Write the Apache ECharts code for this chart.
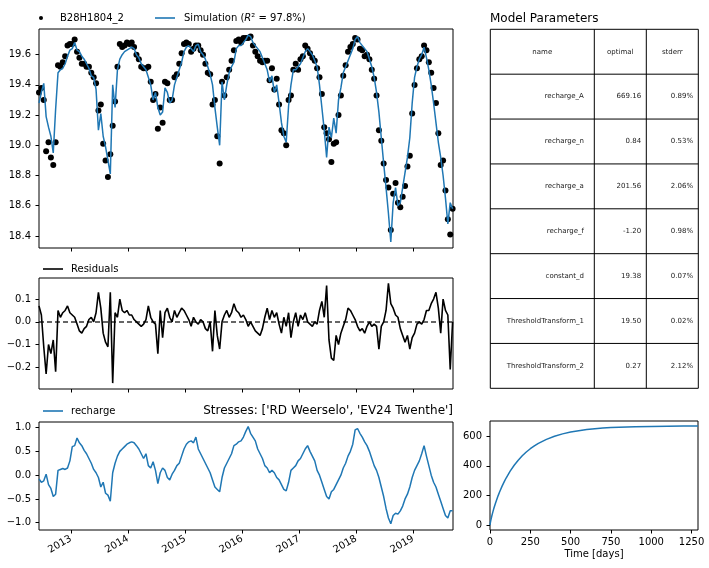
<!DOCTYPE html>
<html><head><meta charset="utf-8">
<script src="https://cdn.jsdelivr.net/npm/echarts@6/dist/echarts.min.js"></script>
<style>html,body{margin:0;padding:0;background:#fff}#c{width:709px;height:568px}</style>
</head><body><div id="c"></div>
<script>
// ---- data (semi-monthly samples) ----
const START_YEAR = 2012.439;      // decimal year of first sample
const STEP_YEAR = 1 / 24;         // half a month
const X_MIN = 2012.439, X_MAX = 2019.696;
const yearTicks = [2013, 2014, 2015, 2016, 2017, 2018, 2019];

const simulation = [
19.28,19.35,19.41,19.19,19.12,19.06,18.95,19.24,19.48,19.50,
19.51,19.54,19.59,19.63,19.64,19.68,19.63,19.62,19.59,19.57,
19.54,19.51,19.46,19.45,19.37,19.10,19.21,19.06,18.99,18.90,
18.81,19.40,19.25,19.50,19.57,19.60,19.62,19.63,19.64,19.65,
19.64,19.60,19.58,19.54,19.52,19.50,19.45,19.40,19.30,19.35,
19.25,19.20,19.22,19.38,19.35,19.28,19.30,19.40,19.45,19.50,
19.55,19.62,19.65,19.66,19.64,19.62,19.66,19.67,19.62,19.60,
19.57,19.52,19.47,19.40,19.25,19.12,19.00,19.42,19.30,19.40,
19.48,19.52,19.55,19.64,19.66,19.66,19.68,19.70,19.73,19.72,
19.68,19.66,19.64,19.62,19.58,19.54,19.50,19.42,19.46,19.35,
19.40,19.28,19.15,19.06,19.02,19.26,19.40,19.50,19.50,19.52,
19.54,19.58,19.62,19.64,19.62,19.60,19.56,19.52,19.40,19.25,
19.10,18.92,19.12,19.05,19.18,19.08,19.30,19.38,19.48,19.52,
19.56,19.60,19.64,19.70,19.72,19.68,19.66,19.64,19.62,19.57,
19.52,19.45,19.35,19.22,19.05,18.88,18.72,18.55,18.36,18.62,
18.72,18.60,18.62,18.72,18.82,18.92,19.05,19.28,19.45,19.52,
19.57,19.60,19.65,19.58,19.50,19.40,19.28,19.15,19.02,18.92,
18.80,18.65,18.48,18.62,18.58];

const residuals = [
0.07,0.03,-0.11,-0.23,-0.10,-0.14,-0.08,-0.22,0.05,0.02,
0.04,0.05,0.07,0.04,0.03,0.02,-0.01,-0.04,-0.05,-0.03,
-0.02,0.01,0.02,0.00,0.04,0.13,0.06,-0.05,-0.09,-0.11,
0.13,-0.27,0.04,0.02,0.10,0.05,0.04,0.05,0.03,0.03,
0.01,0.00,-0.01,-0.02,-0.01,0.01,0.07,0.02,0.00,-0.01,
-0.14,0.05,-0.07,0.04,0.06,0.02,0.00,0.05,0.02,0.04,
0.06,0.05,0.03,0.01,-0.02,0.02,0.00,-0.01,0.01,0.00,
-0.03,-0.04,0.00,-0.13,0.05,-0.06,-0.12,0.00,0.03,0.05,
0.02,0.04,0.08,0.05,0.04,0.02,0.03,0.01,-0.02,0.00,
-0.02,-0.04,-0.05,-0.06,-0.03,0.02,0.06,0.01,0.05,0.02,
0.04,-0.01,-0.05,0.02,-0.02,0.04,-0.07,0.00,0.04,-0.02,
0.03,0.01,0.04,0.00,-0.01,-0.02,0.00,-0.01,0.05,0.09,
0.02,0.16,-0.08,-0.16,-0.17,-0.06,-0.10,-0.05,-0.02,0.01,
0.06,0.05,0.03,0.01,-0.02,-0.04,-0.03,-0.05,-0.02,0.00,
-0.02,-0.01,-0.02,-0.12,-0.02,0.00,0.05,0.17,0.08,0.06,
0.03,0.02,-0.03,-0.06,-0.09,-0.06,-0.12,-0.07,-0.05,-0.01,
0.00,-0.01,0.01,0.05,0.05,0.08,0.10,0.13,0.06,-0.05,
0.10,0.05,0.03,-0.21,0.00];

const recharge = [
-0.08,-0.15,-0.12,0.02,-0.20,-0.28,-0.45,-0.40,0.10,0.12,
0.14,0.12,0.15,0.30,0.60,0.62,0.78,0.68,0.62,0.52,
0.45,0.35,0.25,0.12,0.05,-0.05,-0.25,-0.15,-0.38,-0.42,
-0.55,0.05,0.25,0.40,0.50,0.55,0.60,0.65,0.68,0.70,
0.68,0.62,0.55,0.45,0.35,0.45,0.20,0.15,0.28,0.10,
-0.18,0.05,0.15,0.10,-0.05,-0.10,0.02,0.10,0.20,0.25,
0.40,0.55,0.65,0.70,0.72,0.68,0.80,0.55,0.45,0.35,
0.25,0.15,0.05,-0.10,-0.25,-0.30,-0.35,-0.05,0.15,0.25,
0.35,0.45,0.62,0.65,0.70,0.72,0.80,0.92,1.02,0.88,
0.80,0.72,0.55,0.45,0.35,0.20,0.15,0.05,0.10,0.05,
-0.05,-0.10,-0.20,-0.30,-0.33,-0.15,0.10,0.15,0.20,0.30,
0.35,0.45,0.55,0.62,0.50,0.40,0.30,0.10,0.00,-0.15,
-0.30,-0.45,-0.50,-0.35,-0.30,-0.20,-0.10,0.00,0.15,0.25,
0.40,0.50,0.65,0.95,0.98,0.88,0.80,0.70,0.62,0.50,
0.35,0.20,0.10,-0.05,-0.25,-0.45,-0.70,-0.90,-1.02,-0.85,
-0.80,-0.82,-0.75,-0.65,-0.50,-0.40,-0.25,-0.05,0.10,0.20,
0.30,0.45,0.62,0.40,0.20,0.00,-0.15,-0.25,-0.40,-0.55,
-0.70,-0.85,-0.90,-0.75,-0.75];

const responseTime = [0,2,5,10,15,20,25,35,50,60,75,90,100,125,150,175,200,225,250,275,300,350,400,450,500,550,600,650,700,750,800,900,1000,1100,1200,1290];
const responseStep = [0,14.6,31.4,55.7,77.4,97.5,116.3,150.8,197.0,224.8,262.6,296.7,317.5,364.0,403.8,437.9,467.6,493.2,515.3,534.6,551.6,578.7,599.6,615.6,628.2,637.0,644.5,650.1,654.5,657.9,660.4,663.9,666.0,667.3,668.0,668.4];

const tableHeader = ['name', 'optimal', 'stderr'];
const paramNames = ['recharge_A','recharge_n','recharge_a','recharge_f','constant_d','ThresholdTransform_1','ThresholdTransform_2'];
const paramOptimal = [669.16, 0.84, 201.56, -1.20, 19.38, 19.50, 0.27];
const paramStderr = [0.89, 0.53, 2.06, 0.98, 0.07, 0.02, 2.12];

const obsTicks = [18.4, 18.6, 18.8, 19.0, 19.2, 19.4, 19.6];
const resTicks = [-0.2, -0.1, 0.0, 0.1];
const rchTicks = [-1.0, -0.5, 0.0, 0.5, 1.0];
const rspYTicks = [0, 200, 400, 600];
const rspXTicks = [0, 250, 500, 750, 1000, 1250];

// ---- build ----
const FONT = 'DejaVu Sans';
const BLUE = '#1f77b4';
const xs = simulation.map((_, i) => START_YEAR + i * STEP_YEAR);
const observed = simulation.map((s, i) => +(s + residuals[i]).toFixed(3));
const pair = (arr) => arr.map((v, i) => [xs[i], v]);
const fmt1 = v => (v < -1e-9 ? '\u2212' : '') + Math.abs(v).toFixed(1);

function gridBox(left, top, width, height) {
  return { left, top, width, height, show: true, borderColor: '#000', borderWidth: 1, backgroundColor: 'transparent', containLabel: false };
}
function tick() { return { show: true, length: 3.5, lineStyle: { color: '#000', width: 1 } }; }
function lab(extra) {
  return Object.assign({ color: '#000', fontFamily: FONT, fontSize: 10 }, extra);
}
const noLine = { show: false, onZero: false };
function yearAxis(gridIndex, showLabels) {
  return {
    type: 'value', gridIndex, min: X_MIN, max: X_MAX, position: 'bottom',
    axisLine: noLine, splitLine: { show: false },
    axisTick: Object.assign(tick(), { customValues: yearTicks }),
    axisLabel: lab({ show: showLabels, customValues: yearTicks, rotate: 30, margin: 8, formatter: v => String(Math.round(v)) })
  };
}
function yAxis(gridIndex, min, max, ticks, f) {
  return {
    type: 'value', gridIndex, min, max, position: 'left',
    axisLine: noLine, splitLine: { show: false },
    axisTick: Object.assign(tick(), { customValues: ticks }),
    axisLabel: lab({ customValues: ticks, margin: 8, formatter: f })
  };
}

const textStyle = { color: '#000', fontFamily: FONT, fontSize: 10 };

// table graphics
const TX = [490.3, 594.3, 646.3, 698.3];
const TY0 = 29.3, ROWH = 44.875, NROW = paramNames.length + 1;
const graphics = [];
for (let r = 0; r <= NROW; r++) {
  const y = TY0 + r * ROWH;
  graphics.push({ type: 'line', shape: { x1: TX[0], y1: y, x2: TX[3], y2: y }, style: { stroke: '#000', lineWidth: 1 } });
}
for (let c = 0; c < TX.length; c++) {
  graphics.push({ type: 'line', shape: { x1: TX[c], y1: TY0, x2: TX[c], y2: TY0 + NROW * ROWH }, style: { stroke: '#000', lineWidth: 1 } });
}
const cellText = (text, x, y, align) => ({ type: 'text', style: { text, x, y, align, verticalAlign: 'middle', fontSize: 7, fontFamily: FONT, fill: '#222' } });
tableHeader.forEach((h, c) => graphics.push(cellText(h, (TX[c] + TX[c + 1]) / 2, TY0 + ROWH / 2, 'center')));
paramNames.forEach((n, r) => {
  const y = TY0 + (r + 1.5) * ROWH;
  const cells = [n, paramOptimal[r].toFixed(2), paramStderr[r].toFixed(2) + '%'];
  cells.forEach((t, c) => {
    const w = TX[c + 1] - TX[c];
    graphics.push(cellText(t, TX[c + 1] - 0.1 * w, y, 'right'));
  });
});

const lineLegend = (name, left, top, color, extraText) => ({
  data: [{ name, icon: 'rect' }], left, top, padding: 0, itemWidth: 20, itemHeight: 1.6,
  itemStyle: { color }, textStyle: Object.assign({}, textStyle, { padding: [0, 0, 0, 3] }, extraText || {})
});

const option = {
  animation: false,
  backgroundColor: '#fff',
  textStyle: { fontFamily: FONT },
  title: [
    { text: 'Model Parameters', left: 490, top: 13, padding: 0, textStyle: { fontSize: 12, fontWeight: 'normal', fontFamily: FONT, color: '#000' } },
    { text: "Stresses: ['RD Weerselo', 'EV24 Twenthe']", right: 256, top: 405, padding: 0, textStyle: { fontSize: 12, fontWeight: 'normal', fontFamily: FONT, color: '#000' } }
  ],
  legend: [
    { data: [{ name: 'B28H1804_2', icon: 'circle' }], left: 39, top: 13, padding: 0, itemWidth: 28, itemHeight: 4, textStyle },
    Object.assign(lineLegend('Simulation', 155, 13, BLUE, { padding: [0, 0, 0, 4], rich: { it: { fontStyle: 'italic', fontFamily: FONT, fontSize: 10, color: '#000' } } }),
      { formatter: () => 'Simulation ({it|R}\u00B2 = 97.8%)' }),
    lineLegend('Residuals', 43, 264, '#000'),
    lineLegend('recharge', 43, 406, BLUE)
  ],
  grid: [
    gridBox(39, 29, 414, 219),
    gridBox(39, 278, 414, 111),
    gridBox(39, 422, 414, 108),
    gridBox(490, 421, 208, 109)
  ],
  xAxis: [
    yearAxis(0, false),
    yearAxis(1, false),
    yearAxis(2, true),
    { type: 'value', gridIndex: 3, min: 0, max: 1290, position: 'bottom',
      axisLine: noLine, splitLine: { show: false },
      axisTick: Object.assign(tick(), { customValues: rspXTicks }),
      axisLabel: lab({ customValues: rspXTicks, margin: 7, formatter: v => String(v) }),
      name: 'Time [days]', nameLocation: 'middle', nameGap: 19,
      nameTextStyle: { color: '#000', fontFamily: FONT, fontSize: 10 } }
  ],
  yAxis: [
    yAxis(0, 18.32, 19.77, obsTicks, v => v.toFixed(1)),
    yAxis(1, -0.296, 0.193, resTicks, fmt1),
    yAxis(2, -1.153, 1.117, rchTicks, fmt1),
    yAxis(3, -33.5, 702.6, rspYTicks, v => String(v))
  ],
  graphic: graphics,
  series: [
    { name: 'B28H1804_2', type: 'scatter', xAxisIndex: 0, yAxisIndex: 0, data: pair(observed),
      symbol: 'circle', symbolSize: 6, itemStyle: { color: '#000', opacity: 1 }, z: 2, silent: true },
    { name: 'Simulation', type: 'line', xAxisIndex: 0, yAxisIndex: 0, data: pair(simulation),
      symbol: 'none', lineStyle: { color: BLUE, width: 1.5 }, itemStyle: { color: BLUE }, z: 3, silent: true },
    { name: 'Residuals', type: 'line', xAxisIndex: 1, yAxisIndex: 1, data: pair(residuals),
      symbol: 'none', lineStyle: { color: '#000', width: 1.6 }, itemStyle: { color: '#000' }, silent: true,
      markLine: { silent: true, symbol: 'none', label: { show: false },
        lineStyle: { color: '#000', type: [5, 3], width: 1.5, opacity: 0.8 }, data: [{ yAxis: 0 }] } },
    { name: 'recharge', type: 'line', xAxisIndex: 2, yAxisIndex: 2, data: pair(recharge),
      symbol: 'none', lineStyle: { color: BLUE, width: 1.5 }, itemStyle: { color: BLUE }, silent: true },
    { name: 'response', type: 'line', xAxisIndex: 3, yAxisIndex: 3,
      data: responseTime.map((t, i) => [t, responseStep[i]]),
      symbol: 'none', lineStyle: { color: BLUE, width: 1.5 }, silent: true }
  ]
};

const chart = echarts.init(document.getElementById('c'), null, { renderer: 'canvas' });
chart.setOption(option);
</script>
</body></html>
